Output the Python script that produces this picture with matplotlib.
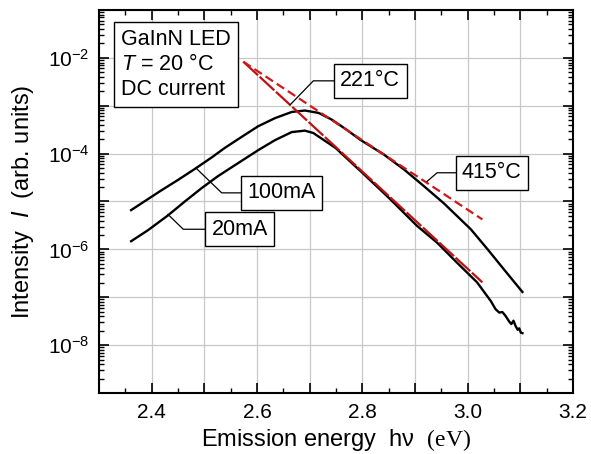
import numpy as np
import matplotlib as mpl
import matplotlib.pyplot as plt
from matplotlib.ticker import MultipleLocator, LogLocator, FuncFormatter, NullFormatter

mpl.rcParams['font.family'] = ['Liberation Sans', 'DejaVu Sans']
mpl.rcParams['mathtext.fontset'] = 'custom'
mpl.rcParams['mathtext.rm'] = 'Liberation Serif'
mpl.rcParams['mathtext.it'] = 'Liberation Sans:italic'
mpl.rcParams['mathtext.bf'] = 'Liberation Sans:bold'

# spectra, photon energy (eV) and log10 of intensity (arb. units)
e_100 = [2.361, 2.393, 2.418, 2.450, 2.482, 2.514, 2.539, 2.571, 2.602, 2.634,
         2.666, 2.691, 2.717, 2.742, 2.770, 2.796, 2.841, 2.879, 2.917, 2.955,
         3.006, 3.038, 3.069, 3.104]
log_100 = [-5.18, -4.95, -4.77, -4.55, -4.32, -4.08, -3.88, -3.65, -3.43, -3.26,
           -3.13, -3.10, -3.15, -3.29, -3.50, -3.71, -4.02, -4.33, -4.68, -5.04,
           -5.58, -6.00, -6.42, -6.89]

e_20 = [2.361, 2.393, 2.431, 2.463, 2.495, 2.526, 2.571, 2.602, 2.634, 2.666,
        2.691, 2.707, 2.730, 2.749, 2.800, 2.850, 2.904, 2.942, 2.980, 3.018,
        3.044, 3.053, 3.060, 3.066, 3.072, 3.079, 3.083, 3.087, 3.091, 3.095,
        3.098, 3.101, 3.104]
log_20 = [-5.83, -5.60, -5.29, -5.00, -4.72, -4.47, -4.15, -3.93, -3.72, -3.55,
          -3.52, -3.57, -3.74, -3.88, -4.40, -4.92, -5.51, -5.86, -6.28, -6.69,
          -7.08, -7.25, -7.32, -7.31, -7.39, -7.51, -7.56, -7.49, -7.60, -7.68,
          -7.65, -7.74, -7.75]

# Boltzmann tail fits (end points)
fit_e = [2.574, 3.028]
fit_221 = [-2.08, -6.69]
fit_415 = [-2.08, -5.375]

fig = plt.figure(figsize=(5.91, 4.54), dpi=100)
ax = fig.add_axes([0.1675, 0.1344, 0.802, 0.8436])

ax.plot(e_100, 10 ** np.array(log_100), color='black', lw=1.7, zorder=3)
ax.plot(e_20, 10 ** np.array(log_20), color='black', lw=1.7, zorder=3)
ax.plot(fit_e, 10 ** np.array(fit_221), color='#c01010', lw=1.6,
        dashes=(9, 1.0), zorder=4)
ax.plot(fit_e, 10 ** np.array(fit_415), color='#d01818', lw=1.6,
        dashes=(4, 2), zorder=4)

ax.set_yscale('log')
ax.set_xlim(2.3, 3.2)
ax.set_ylim(1e-9, 1e-1)

ax.xaxis.set_major_locator(MultipleLocator(0.1))
ax.xaxis.set_minor_locator(MultipleLocator(0.05))
ax.xaxis.set_major_formatter(FuncFormatter(
    lambda v, p: ('%.1f' % v) if abs(round(v * 10) % 2) < 0.5 else ''))
ax.yaxis.set_major_locator(LogLocator(base=10, numticks=20))
ax.yaxis.set_minor_locator(LogLocator(base=10, subs=np.arange(2, 10), numticks=20))
ax.yaxis.set_minor_formatter(NullFormatter())
ax.yaxis.set_major_formatter(FuncFormatter(
    lambda v, p: (r'$\mathdefault{10^{%d}}$' % round(np.log10(v)))
    if round(np.log10(v)) % 2 == 0 else ''))

ax.tick_params(which='both', direction='in', top=True, right=True,
               labelsize=15, color='black')
ax.tick_params(which='major', length=7, width=1.2, pad=7)
ax.tick_params(which='minor', length=3.5, width=1.0)
for s in ax.spines.values():
    s.set_linewidth(1.5)

ax.grid(True, which='major', color='#c8c8c8', lw=0.9)
ax.set_axisbelow(True)

ax.set_xlabel('Emission energy  hν  $\\mathrm{(eV)}$', fontsize=17, labelpad=4)
ax.set_ylabel(r'Intensity  $I$  (arb. units)', fontsize=17, labelpad=8)

box = dict(boxstyle='square,pad=0.32', fc='white', ec='black', lw=1.0)
ax.text(2.342, 10 ** -2.135, 'GaInN LED\n$T$ = 20 °C\nDC current', fontsize=15.5,
        ha='left', va='center', linespacing=1.25, bbox=box, zorder=5)

# leader lines and labels
labels = ['221°C', '415°C', '100mA', '20mA']
lab_e = [2.815, 3.046, 2.646, 2.567]
lab_log = [-2.48, -4.40, -4.82, -5.58]
lead_e = [[2.748, 2.707, 2.663], [2.980, 2.942, 2.923],
          [2.577, 2.533, 2.484], [2.504, 2.460, 2.431]]
lead_log = [[-2.48, -2.48, -2.98], [-4.40, -4.40, -4.58],
            [-4.82, -4.82, -4.30], [-5.58, -5.58, -5.27]]
for t, x, y, le, ll in zip(labels, lab_e, lab_log, lead_e, lead_log):
    ax.plot(le, 10 ** np.array(ll), color='black', lw=0.9, zorder=5)
    ax.text(x, 10 ** y, t, fontsize=15.5, ha='center', va='center',
            bbox=dict(boxstyle='square,pad=0.3', fc='white', ec='black', lw=1.0),
            zorder=6)

fig.savefig('out.png', dpi=100)
